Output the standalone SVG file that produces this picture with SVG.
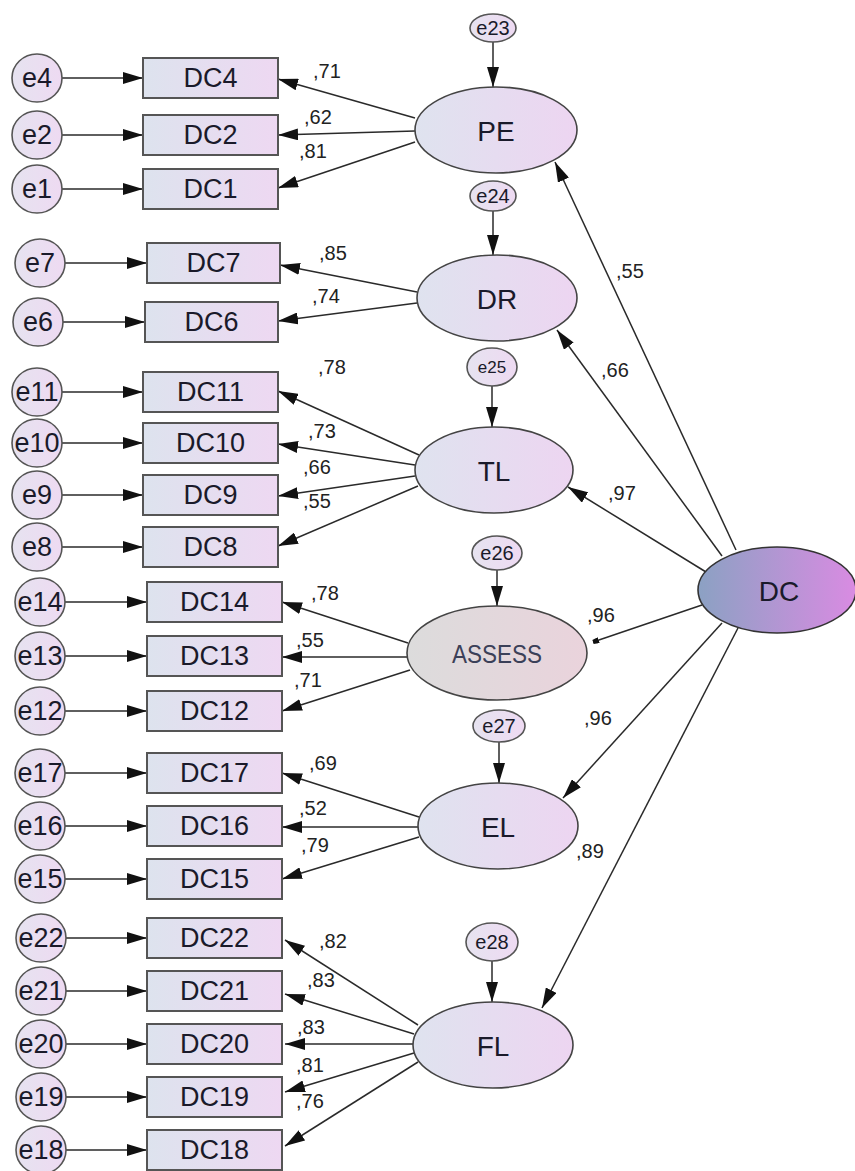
<svg xmlns="http://www.w3.org/2000/svg" width="855" height="1171" viewBox="0 0 855 1171">
<defs>
<linearGradient id="gRect" x1="0" y1="0" x2="1" y2="0"><stop offset="0" stop-color="#dde3ee"/><stop offset="1" stop-color="#eed8f2"/></linearGradient>
<linearGradient id="gLat" x1="0" y1="0" x2="1" y2="0"><stop offset="0" stop-color="#dfe3ef"/><stop offset="1" stop-color="#edd5f1"/></linearGradient>
<linearGradient id="gErr" x1="0" y1="0" x2="1" y2="0"><stop offset="0" stop-color="#e6e3f0"/><stop offset="1" stop-color="#eedaf2"/></linearGradient>
<linearGradient id="gAss" x1="0" y1="0" x2="1" y2="0"><stop offset="0" stop-color="#dcdcdc"/><stop offset="1" stop-color="#ead3dc"/></linearGradient>
<linearGradient id="gDC" x1="0" y1="0" x2="1" y2="0"><stop offset="0" stop-color="#8ba1c3"/><stop offset="1" stop-color="#d98be2"/></linearGradient>
<marker id="ah" viewBox="0 0 20 12" refX="20" refY="6" markerWidth="20" markerHeight="12" markerUnits="userSpaceOnUse" orient="auto"><path d="M0,0 L20,6 L0,12 z" fill="#111"/></marker>
<marker id="ahs" viewBox="0 0 6 6" refX="6" refY="3" markerWidth="6" markerHeight="6" markerUnits="userSpaceOnUse" orient="auto"><path d="M0,0 L6,1 L6,5 L0,6 z" fill="#111"/></marker>
<style>
.r{fill:url(#gRect);stroke:#555;stroke-width:2}
.l{fill:url(#gLat);stroke:#444;stroke-width:1.6}
.e{fill:url(#gErr);stroke:#555;stroke-width:1.6}
.c line{stroke:#2a2a2a;stroke-width:1.5;marker-end:url(#ah)}
text{font-family:"Liberation Sans",Arial,sans-serif;fill:#1a1a2a;text-anchor:middle;dominant-baseline:central}
.tr{font-size:27px}
.te{font-size:27px}
.ts{font-size:20px}
.tl{font-size:28px}
.w{font-size:20px;text-anchor:start;dominant-baseline:alphabetic;fill:#222}
</style>
</defs>
<rect width="855" height="1171" fill="#ffffff"/>

<g id="connectors" class="c">
<line x1="62" y1="78" x2="143" y2="78"/>
<line x1="62" y1="135" x2="143" y2="135"/>
<line x1="62" y1="189" x2="143" y2="189"/>
<line x1="65" y1="263" x2="147" y2="263"/>
<line x1="63" y1="322" x2="145" y2="322"/>
<line x1="62" y1="392" x2="143" y2="392"/>
<line x1="62" y1="443" x2="143" y2="443"/>
<line x1="62" y1="495" x2="143" y2="495"/>
<line x1="62" y1="547" x2="143" y2="547"/>
<line x1="65" y1="602" x2="147" y2="602"/>
<line x1="65" y1="656" x2="147" y2="656"/>
<line x1="65" y1="711" x2="147" y2="711"/>
<line x1="65" y1="773" x2="147" y2="773"/>
<line x1="65" y1="826" x2="147" y2="826"/>
<line x1="65" y1="879" x2="147" y2="879"/>
<line x1="66" y1="938" x2="147" y2="938"/>
<line x1="66" y1="991" x2="147" y2="991"/>
<line x1="66" y1="1044" x2="147" y2="1044"/>
<line x1="66" y1="1097" x2="147" y2="1097"/>
<line x1="66" y1="1150" x2="147" y2="1150"/>
<line x1="493" y1="42" x2="493" y2="87"/>
<line x1="493" y1="211" x2="493" y2="255"/>
<line x1="492" y1="386" x2="492" y2="427"/>
<line x1="497" y1="570" x2="497" y2="606"/>
<line x1="499" y1="742" x2="499" y2="783"/>
<line x1="492" y1="961" x2="492" y2="1002"/>
<line x1="415" y1="118" x2="278" y2="79"/>
<line x1="415" y1="131" x2="278" y2="135"/>
<line x1="415" y1="142" x2="278" y2="188"/>
<line x1="417" y1="292" x2="280" y2="265"/>
<line x1="417" y1="303" x2="278" y2="321"/>
<line x1="419" y1="455" x2="278" y2="391"/>
<line x1="415" y1="465" x2="278" y2="444"/>
<line x1="415" y1="476" x2="278" y2="496"/>
<line x1="418" y1="486" x2="278" y2="546"/>
<line x1="408" y1="643" x2="282" y2="602"/>
<line x1="407" y1="657" x2="282" y2="657"/>
<line x1="410" y1="670" x2="282" y2="711"/>
<line x1="419" y1="817" x2="282" y2="773"/>
<line x1="418" y1="827" x2="282" y2="827"/>
<line x1="419" y1="837" x2="282" y2="879"/>
<line x1="418" y1="1025" x2="285" y2="940"/>
<line x1="414" y1="1034" x2="285" y2="994"/>
<line x1="413" y1="1044" x2="285" y2="1044"/>
<line x1="414" y1="1053" x2="285" y2="1092"/>
<line x1="418" y1="1062" x2="285" y2="1146"/>
<line x1="736" y1="550" x2="555" y2="162"/>
<line x1="722" y1="556" x2="557" y2="330"/>
<line x1="706" y1="572" x2="568" y2="487"/>
<line x1="702" y1="605" x2="593" y2="642" style="marker-end:url(#ahs)"/>
<line x1="722" y1="623" x2="563" y2="798"/>
<line x1="738" y1="628" x2="542" y2="1008"/>
</g>

<g id="labels">
<text class="w" x="313" y="78">,71</text>
<text class="w" x="304" y="124">,62</text>
<text class="w" x="299" y="158">,81</text>
<text class="w" x="319" y="260">,85</text>
<text class="w" x="312" y="303">,74</text>
<text class="w" x="318" y="374">,78</text>
<text class="w" x="308" y="438">,73</text>
<text class="w" x="303" y="474">,66</text>
<text class="w" x="303" y="508">,55</text>
<text class="w" x="311" y="600">,78</text>
<text class="w" x="296" y="647">,55</text>
<text class="w" x="294" y="687">,71</text>
<text class="w" x="309" y="770">,69</text>
<text class="w" x="299" y="815">,52</text>
<text class="w" x="301" y="852">,79</text>
<text class="w" x="319" y="948">,82</text>
<text class="w" x="307" y="987">,83</text>
<text class="w" x="297" y="1034">,83</text>
<text class="w" x="296" y="1072">,81</text>
<text class="w" x="296" y="1108">,76</text>
<text class="w" x="616" y="278">,55</text>
<text class="w" x="601" y="377">,66</text>
<text class="w" x="608" y="500">,97</text>
<text class="w" x="587" y="622">,96</text>
<text class="w" x="584" y="725">,96</text>
<text class="w" x="576" y="858">,89</text>
</g>

<g id="n-e4"><ellipse class="e" cx="37" cy="78" rx="25" ry="24"/><text class="te" x="37" y="78">e4</text></g>
<g id="n-e2"><ellipse class="e" cx="37" cy="135" rx="25" ry="24"/><text class="te" x="37" y="135">e2</text></g>
<g id="n-e1"><ellipse class="e" cx="37" cy="189" rx="25" ry="24"/><text class="te" x="37" y="189">e1</text></g>
<g id="n-e7"><ellipse class="e" cx="40" cy="263" rx="25" ry="24"/><text class="te" x="40" y="263">e7</text></g>
<g id="n-e6"><ellipse class="e" cx="38" cy="322" rx="25" ry="24"/><text class="te" x="38" y="322">e6</text></g>
<g id="n-e11"><ellipse class="e" cx="37" cy="392" rx="25" ry="24"/><text class="te" x="37" y="392">e11</text></g>
<g id="n-e10"><ellipse class="e" cx="37" cy="443" rx="25" ry="24"/><text class="te" x="37" y="443">e10</text></g>
<g id="n-e9"><ellipse class="e" cx="37" cy="495" rx="25" ry="24"/><text class="te" x="37" y="495">e9</text></g>
<g id="n-e8"><ellipse class="e" cx="37" cy="547" rx="25" ry="24"/><text class="te" x="37" y="547">e8</text></g>
<g id="n-e14"><ellipse class="e" cx="40" cy="602" rx="25" ry="24"/><text class="te" x="40" y="602">e14</text></g>
<g id="n-e13"><ellipse class="e" cx="40" cy="656" rx="25" ry="24"/><text class="te" x="40" y="656">e13</text></g>
<g id="n-e12"><ellipse class="e" cx="40" cy="711" rx="25" ry="24"/><text class="te" x="40" y="711">e12</text></g>
<g id="n-e17"><ellipse class="e" cx="40" cy="773" rx="25" ry="24"/><text class="te" x="40" y="773">e17</text></g>
<g id="n-e16"><ellipse class="e" cx="40" cy="826" rx="25" ry="24"/><text class="te" x="40" y="826">e16</text></g>
<g id="n-e15"><ellipse class="e" cx="40" cy="879" rx="25" ry="24"/><text class="te" x="40" y="879">e15</text></g>
<g id="n-e22"><ellipse class="e" cx="41" cy="938" rx="25" ry="24"/><text class="te" x="41" y="938">e22</text></g>
<g id="n-e21"><ellipse class="e" cx="41" cy="991" rx="25" ry="24"/><text class="te" x="41" y="991">e21</text></g>
<g id="n-e20"><ellipse class="e" cx="41" cy="1044" rx="25" ry="24"/><text class="te" x="41" y="1044">e20</text></g>
<g id="n-e19"><ellipse class="e" cx="41" cy="1097" rx="25" ry="24"/><text class="te" x="41" y="1097">e19</text></g>
<g id="n-e18"><ellipse class="e" cx="41" cy="1150" rx="25" ry="24"/><text class="te" x="41" y="1150">e18</text></g>

<g id="n-DC4"><rect class="r" x="143" y="58" width="135" height="40"/><text class="tr" x="210.5" y="78">DC4</text></g>
<g id="n-DC2"><rect class="r" x="143" y="115" width="135" height="40"/><text class="tr" x="210.5" y="135">DC2</text></g>
<g id="n-DC1"><rect class="r" x="143" y="169" width="135" height="40"/><text class="tr" x="210.5" y="189">DC1</text></g>
<g id="n-DC7"><rect class="r" x="147" y="243" width="133" height="40"/><text class="tr" x="213.5" y="263">DC7</text></g>
<g id="n-DC6"><rect class="r" x="145" y="302" width="133" height="40"/><text class="tr" x="211.5" y="322">DC6</text></g>
<g id="n-DC11"><rect class="r" x="143" y="372" width="135" height="40"/><text class="tr" x="210.5" y="392">DC11</text></g>
<g id="n-DC10"><rect class="r" x="143" y="423" width="135" height="40"/><text class="tr" x="210.5" y="443">DC10</text></g>
<g id="n-DC9"><rect class="r" x="143" y="475" width="135" height="40"/><text class="tr" x="210.5" y="495">DC9</text></g>
<g id="n-DC8"><rect class="r" x="143" y="527" width="135" height="40"/><text class="tr" x="210.5" y="547">DC8</text></g>
<g id="n-DC14"><rect class="r" x="147" y="582" width="135" height="40"/><text class="tr" x="214.5" y="602">DC14</text></g>
<g id="n-DC13"><rect class="r" x="147" y="636" width="135" height="40"/><text class="tr" x="214.5" y="656">DC13</text></g>
<g id="n-DC12"><rect class="r" x="147" y="691" width="135" height="40"/><text class="tr" x="214.5" y="711">DC12</text></g>
<g id="n-DC17"><rect class="r" x="147" y="753" width="135" height="40"/><text class="tr" x="214.5" y="773">DC17</text></g>
<g id="n-DC16"><rect class="r" x="147" y="806" width="135" height="40"/><text class="tr" x="214.5" y="826">DC16</text></g>
<g id="n-DC15"><rect class="r" x="147" y="859" width="135" height="40"/><text class="tr" x="214.5" y="879">DC15</text></g>
<g id="n-DC22"><rect class="r" x="147" y="918" width="135" height="40"/><text class="tr" x="214.5" y="938">DC22</text></g>
<g id="n-DC21"><rect class="r" x="147" y="971" width="135" height="40"/><text class="tr" x="214.5" y="991">DC21</text></g>
<g id="n-DC20"><rect class="r" x="147" y="1024" width="135" height="40"/><text class="tr" x="214.5" y="1044">DC20</text></g>
<g id="n-DC19"><rect class="r" x="147" y="1077" width="135" height="40"/><text class="tr" x="214.5" y="1097">DC19</text></g>
<g id="n-DC18"><rect class="r" x="147" y="1130" width="135" height="40"/><text class="tr" x="214.5" y="1150">DC18</text></g>

<g id="n-e23"><ellipse class="e" cx="493" cy="28" rx="23" ry="14"/><text class="ts" x="493" y="28">e23</text></g>
<g id="n-e24"><ellipse class="e" cx="493" cy="196" rx="23" ry="15"/><text class="ts" x="493" y="196">e24</text></g>
<g id="n-e25"><ellipse class="e" cx="492" cy="367" rx="25" ry="19"/><text x="492" y="367" style="font-size:17px">e25</text></g>
<g id="n-e26"><ellipse class="e" cx="497" cy="553" rx="25" ry="17"/><text class="ts" x="497" y="553">e26</text></g>
<g id="n-e27"><ellipse class="e" cx="499" cy="726" rx="26" ry="16"/><text class="ts" x="499" y="726">e27</text></g>
<g id="n-e28"><ellipse class="e" cx="492" cy="942" rx="26" ry="19"/><text class="ts" x="492" y="942">e28</text></g>

<g id="n-PE"><ellipse class="l" cx="496" cy="130" rx="81" ry="43"/><text class="tl" x="496" y="131">PE</text></g>
<g id="n-DR"><ellipse class="l" cx="497" cy="298" rx="80" ry="43"/><text class="tl" x="497" y="299">DR</text></g>
<g id="n-TL"><ellipse class="l" cx="494" cy="470" rx="79" ry="43"/><text class="tl" x="494" y="471">TL</text></g>
<g id="n-ASSESS"><ellipse cx="497" cy="653" rx="90" ry="47" fill="url(#gAss)" stroke="#444" stroke-width="1.6"/><text x="497" y="654" style="font-size:25px;fill:#3b4058" textLength="90" lengthAdjust="spacingAndGlyphs">ASSESS</text></g>
<g id="n-EL"><ellipse class="l" cx="498" cy="826" rx="80" ry="43"/><text class="tl" x="498" y="827">EL</text></g>
<g id="n-FL"><ellipse class="l" cx="493" cy="1045" rx="80" ry="43"/><text class="tl" x="493" y="1046">FL</text></g>
<g id="n-DC"><ellipse cx="777" cy="590" rx="79" ry="43" fill="url(#gDC)" stroke="#333" stroke-width="1.6"/><text x="779" y="591" style="font-size:28px">DC</text></g>
</svg>
